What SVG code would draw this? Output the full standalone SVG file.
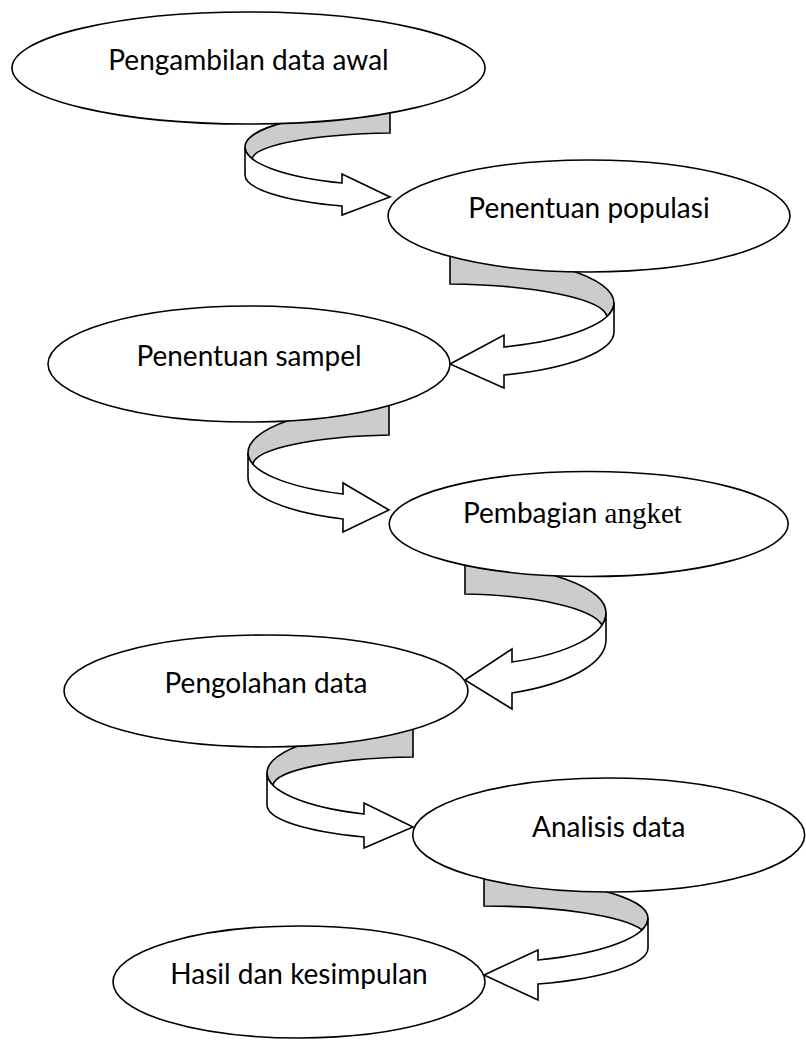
<svg xmlns="http://www.w3.org/2000/svg" width="806" height="1041" viewBox="0 0 806 1041">
<style>
.band{fill:#cccccc;stroke:#000;stroke-width:1.6;stroke-linejoin:miter}
.front{fill:#ffffff;stroke:#000;stroke-width:1.6;stroke-linejoin:miter}
.node ellipse{fill:#ffffff;stroke:#000;stroke-width:1.6}
.node text{font-family:Lato,"Open Sans","Liberation Sans",sans-serif;font-size:28px;fill:#000}
.serif{font-family:"Liberation Serif",serif}
</style>
<rect width="806" height="1041" fill="#ffffff"/>
<g id="connectors">
  <g id="arrow1">
    <path class="band" d="M390,110 A155,37 0 0 0 245,147 A155,38.8 0 0 0 252,158.5 A150,27 0 0 1 390,133 Z"/>
    <path class="front" d="M245,147 L245,175 A155,33.4 0 0 0 342,206 L342,215 L390,197 L342,174 L342,183 A155,38.8 0 0 1 245,147 Z"/>
  </g>
  <g id="arrow2">
    <path class="band" d="M450,254 A170,49 0 0 1 614,303 A170,47 0 0 1 607,316.4 A165,34 0 0 0 450,284 Z"/>
    <path class="front" d="M614,303 L614,332 A170,46 0 0 1 504,375 L504,388 L450,364 L504,335 L504,347 A170,47 0 0 0 614,303 Z"/>
  </g>
  <g id="arrow3">
    <path class="band" d="M389,405 A155,48 0 0 0 248,453 A155,44.5 0 0 0 253,464.2 A150,30 0 0 1 389,435 Z"/>
    <path class="front" d="M248,453 L248,478 A155,44.5 0 0 0 343,519 L343,532 L389,510 L343,483 L343,494 A155,44.5 0 0 1 248,453 Z"/>
  </g>
  <g id="arrow4">
    <path class="band" d="M465,563 A155,50 0 0 1 606,613 A155,53.3 0 0 1 602,625 A150,36 0 0 0 465,594 Z"/>
    <path class="front" d="M606,613 L606,640 A155,57.7 0 0 1 512,693 L512,709 L465,680 L512,649 L512,662 A155,53.3 0 0 0 606,613 Z"/>
  </g>
  <g id="arrow5">
    <path class="band" d="M413,728 A155,45 0 0 0 267,773 A155,44.2 0 0 0 273,785.2 A150,29 0 0 1 413,757 Z"/>
    <path class="front" d="M267,773 L267,805 A155,34.5 0 0 0 364,837 L364,848 L413,827 L364,803 L364,814 A155,44.2 0 0 1 267,773 Z"/>
  </g>
  <g id="arrow6">
    <path class="band" d="M484,878 A170,40 0 0 1 648,918 A170,44.9 0 0 1 642,929.8 A165,32 0 0 0 484,906 Z"/>
    <path class="front" d="M648,918 L648,948 A170,38.5 0 0 1 538,984 L538,1000 L484,975 L538,950 L538,960 A170,44.9 0 0 0 648,918 Z"/>
  </g>
</g>
<g id="node1" class="node">
  <ellipse cx="248.5" cy="68" rx="236.5" ry="56"/>
  <text x="248.5" y="70" text-anchor="middle">Pengambilan data awal</text>
</g>
<g id="node2" class="node">
  <ellipse cx="589" cy="216" rx="201" ry="56"/>
  <text x="589" y="218" text-anchor="middle">Penentuan populasi</text>
</g>
<g id="node3" class="node">
  <ellipse cx="249" cy="364" rx="201" ry="58"/>
  <text x="249" y="366" text-anchor="middle">Penentuan sampel</text>
</g>
<g id="node4" class="node">
  <ellipse cx="588.7" cy="524" rx="199.5" ry="52.5"/>
  <text x="463" y="523">Pembagian<tspan class="serif" font-size="29"> angket</tspan></text>
</g>
<g id="node5" class="node">
  <ellipse cx="266" cy="691" rx="202" ry="56"/>
  <text x="266" y="693" text-anchor="middle">Pengolahan data</text>
</g>
<g id="node6" class="node">
  <ellipse cx="608.7" cy="835" rx="196" ry="57"/>
  <text x="608.7" y="837" text-anchor="middle">Analisis data</text>
</g>
<g id="node7" class="node">
  <ellipse cx="299" cy="982" rx="186" ry="56"/>
  <text x="299" y="984" text-anchor="middle">Hasil dan kesimpulan</text>
</g>
</svg>
